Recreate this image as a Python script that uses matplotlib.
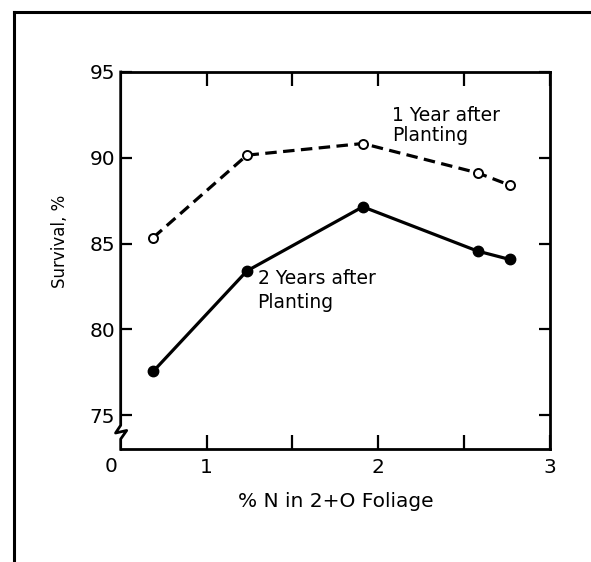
import matplotlib
matplotlib.use('Agg')
import matplotlib.pyplot as plt
from matplotlib.lines import Line2D
import matplotlib.transforms as mtransforms

plt.rcParams['font.family'] = ['DejaVu Sans']

# Data
nitrogen = [0.69, 1.235, 1.91, 2.578, 2.766]
survival_1yr = [85.35, 90.15, 90.83, 89.12, 88.4]
survival_2yr = [77.55, 83.4, 87.14, 84.56, 84.07]
x_ticks = [1, 1.5, 2, 2.5, 3]
x_ticklabels = ['1', '', '2', '', '3']
y_ticks = [75, 80, 85, 90, 95]

fig = plt.figure(figsize=(5.91, 5.62), dpi=100)
ax = fig.add_axes([0.2042, 0.2005, 0.7264, 0.6714])

# 1 year: dashed with open circles, 2 years: solid with filled circles
ax.plot(nitrogen, survival_1yr, color='black', linewidth=2.3, dashes=(3.6, 2.0),
        marker='o', markersize=6.5, markerfacecolor='white', markeredgewidth=1.4, zorder=3)
ax.plot(nitrogen, survival_2yr, color='black', linewidth=2.3,
        marker='o', markersize=7.5, markerfacecolor='black', zorder=3)

ax.text(2.081, 93.0, '1 Year after\nPlanting', fontsize=13.5, va='top', ha='left', linespacing=1.05)
ax.text(1.297, 83.5, '2 Years after\nPlanting', fontsize=13.5, va='top', ha='left', linespacing=1.3)

ax.set_xlim(0.5, 3.0)
ax.set_ylim(73, 95)

ax.set_xticks(x_ticks)
ax.set_xticklabels(x_ticklabels)
ax.set_yticks(y_ticks)
ax.tick_params(axis='both', direction='in', length=8, width=1.6, labelsize=14.5,
               top=True, right=True, pad=4)
ax.tick_params(axis='x', length=10, pad=6)

# Broken left spine (zigzag near origin)
ax.spines['left'].set_visible(False)
for s in ['top', 'right', 'bottom']:
    ax.spines[s].set_linewidth(2.0)
trans = mtransforms.blended_transform_factory(ax.transAxes, ax.transData)
ax.plot([0, 0, -0.012, 0.014, 0, 0], [95, 74.4, 73.95, 74.1, 73.6, 73.0],
        color='black', linewidth=2.0, transform=trans, clip_on=False, zorder=4)

# Origin label
ax.text(-0.022, -0.02, '0', transform=ax.transAxes, fontsize=14.5, ha='center', va='top')

ax.set_xlabel('% N in 2+O Foliage', fontsize=14.5, labelpad=11)
ax.set_ylabel('Survival, %', fontsize=12)
ax.yaxis.set_label_coords(-0.12, 0.55)

# Outer frame (left and top edges)
fig.add_artist(Line2D([14 / 591, 14 / 591], [0, 1 - 12 / 562], color='black', linewidth=2.2,
                      transform=fig.transFigure))
fig.add_artist(Line2D([14 / 591, 1], [1 - 12 / 562, 1 - 12 / 562], color='black', linewidth=2.2,
                      transform=fig.transFigure))

fig.savefig('out.png', dpi=100)
